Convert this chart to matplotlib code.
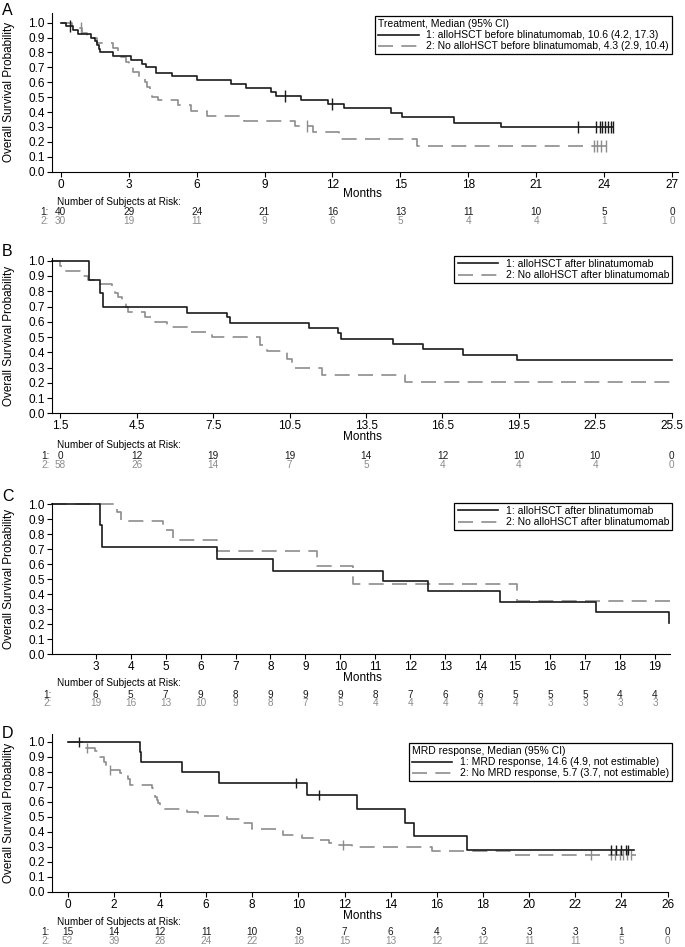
import numpy as np
import matplotlib
matplotlib.use('Agg')
import matplotlib.pyplot as plt
from matplotlib.transforms import blended_transform_factory
from matplotlib.lines import Line2D

plt.rcParams['font.family'] = ['Liberation Sans', 'DejaVu Sans']

# ---------------- DATA ----------------
# Panel A
a_labels = ['1: alloHSCT before blinatumomab, 10.6 (4.2, 17.3)',
            '2: No alloHSCT before blinatumomab, 4.3 (2.9, 10.4)']
a_title = 'Treatment, Median (95% CI)'
a1_t = [0, 0.25, 0.55, 0.75, 1.35, 1.5, 1.6, 1.7, 1.75, 2.3, 3.1, 3.6, 3.75, 4.2, 4.9,
        6.0, 7.5, 8.2, 9.3, 9.5, 10.6, 11.8, 12.5, 14.6, 15.05, 17.35, 19.45]
a1_s = [1.0, 0.975, 0.95, 0.925, 0.90, 0.875, 0.85, 0.825, 0.80, 0.775, 0.75, 0.725, 0.70,
        0.665, 0.64, 0.615, 0.59, 0.56, 0.535, 0.505, 0.48, 0.455, 0.425, 0.395, 0.365, 0.33, 0.30]
a1_end = 24.4
a1_cens = [0.42, 9.9, 12.0, 22.86, 23.65, 23.8, 23.9, 24.04, 24.16, 24.3, 24.4]
a2_t = [0, 0.5, 0.93, 1.15, 1.6, 2.3, 2.55, 2.65, 2.9, 3.0, 3.2, 3.45, 3.7, 3.8, 3.95, 4.05,
        4.3, 5.2, 5.75, 6.45, 8.1, 10.35, 11.15, 12.3, 15.72]
a2_s = [1.0, 0.967, 0.933, 0.90, 0.865, 0.83, 0.80, 0.77, 0.735, 0.70, 0.67, 0.635, 0.60,
        0.567, 0.533, 0.50, 0.48, 0.445, 0.41, 0.375, 0.34, 0.305, 0.265, 0.22, 0.175]
a2_end = 24.1
a2_cens = [0.9, 10.86, 23.55, 23.7, 23.85, 24.1]
a_ticks = [0, 3, 6, 9, 12, 15, 18, 21, 24, 27]
a_risk1 = [40, 29, 24, 21, 16, 13, 11, 10, 5, 0]
a_risk2 = [30, 19, 11, 9, 6, 5, 4, 4, 1, 0]

# Panel B
b_labels = ['1: alloHSCT after blinatumomab', '2: No alloHSCT after blinatumomab']
b1_t = [1.15, 2.6, 3.06, 3.15, 6.47, 8.05, 8.15, 11.27, 12.38, 12.5, 14.57, 15.74, 17.31, 19.41]
b1_s = [1.0, 0.875, 0.79, 0.70, 0.66, 0.63, 0.595, 0.56, 0.525, 0.49, 0.455, 0.42, 0.385, 0.35]
b1_end = 25.5
b2_t = [1.15, 1.48, 1.61, 2.27, 2.59, 2.85, 3.51, 3.64, 3.77, 3.9, 4.07, 4.16, 4.82, 5.21,
        5.67, 6.52, 7.44, 9.33, 9.6, 10.38, 10.58, 11.76, 15.03]
b2_s = [1.0, 0.967, 0.933, 0.90, 0.875, 0.85, 0.82, 0.79, 0.76, 0.73, 0.70, 0.665, 0.63,
        0.60, 0.565, 0.535, 0.50, 0.45, 0.41, 0.355, 0.30, 0.25, 0.205]
b2_end = 25.5
b_ticks = [1.5, 4.5, 7.5, 10.5, 13.5, 16.5, 19.5, 22.5, 25.5]
b_risk1 = [0, 12, 19, 19, 14, 12, 10, 10, 0]
b_risk2 = [58, 26, 14, 7, 5, 4, 4, 4, 0]

# Panel C
c_labels = ['1: alloHSCT after blinatumomab', '2: No alloHSCT after blinatumomab']
c1_t = [1.75, 3.11, 3.19, 6.47, 8.06, 11.22, 12.51, 14.58, 17.31, 19.4]
c1_s = [1.0, 0.857, 0.714, 0.635, 0.556, 0.486, 0.417, 0.347, 0.278, 0.208]
c1_end = 19.4
c2_t = [1.75, 3.61, 3.73, 4.93, 5.21, 6.47, 9.32, 10.37, 15.04]
c2_s = [1.0, 0.944, 0.889, 0.824, 0.758, 0.686, 0.588, 0.47, 0.353]
c2_end = 19.43
c_ticks = list(range(3, 20))
c_risk1 = [6, 5, 7, 9, 8, 9, 9, 9, 8, 7, 6, 6, 5, 5, 5, 4, 4]
c_risk2 = [19, 16, 13, 10, 9, 8, 7, 5, 4, 4, 4, 4, 4, 3, 3, 3, 3]

# Panel D
d_labels = ['1: MRD response, 14.6 (4.9, not estimable)',
            '2: No MRD response, 5.7 (3.7, not estimable)']
d_title = 'MRD response, Median (95% CI)'
d1_t = [0, 3.14, 3.2, 4.95, 6.54, 10.37, 12.54, 14.6, 15.03, 17.32]
d1_s = [1.0, 0.933, 0.867, 0.80, 0.727, 0.645, 0.55, 0.46, 0.37, 0.278]
d1_end = 24.55
d1_cens = [0.5, 9.91, 10.88, 23.54, 23.75, 23.97, 24.19, 24.29]
d2_t = [0, 0.68, 0.75, 1.2, 1.4, 1.58, 1.66, 2.27, 2.44, 2.6, 2.7, 3.65, 3.72, 3.79, 3.86,
        3.93, 4.0, 4.15, 5.17, 5.67, 6.9, 7.48, 7.98, 9.33, 10.15, 10.8, 11.32, 11.67, 12.33,
        15.8, 19.34]
d2_s = [1.0, 0.98, 0.96, 0.94, 0.90, 0.865, 0.81, 0.79, 0.77, 0.75, 0.71, 0.69, 0.655, 0.635,
        0.615, 0.595, 0.575, 0.55, 0.535, 0.505, 0.485, 0.46, 0.42, 0.375, 0.36, 0.345, 0.325,
        0.31, 0.295, 0.27, 0.245]
d2_end = 24.62
d2_cens = [0.85, 1.84, 11.95, 22.7, 23.55, 23.7, 23.94, 24.08, 24.23, 24.4]
d_ticks = list(range(0, 27, 2))
d_risk1 = [15, 14, 12, 11, 10, 9, 7, 6, 4, 3, 3, 3, 1, 0]
d_risk2 = [52, 39, 28, 24, 22, 18, 15, 13, 12, 12, 11, 11, 5, 0]

y_ticks = [0.0, 0.1, 0.2, 0.3, 0.4, 0.5, 0.6, 0.7, 0.8, 0.9, 1.0]

# ---------------- STYLE / LAYOUT ----------------
W, H = 685, 947
BLACK = '#1a1a1a'
GRAY = '#8c8c8c'
DASH = (9, 5)
fig = plt.figure(figsize=(W / 100, H / 100), dpi=100)


def fx(px):
    return px / W


def fy(py):
    return 1 - py / H


def surv_at(t, s, c):
    i = np.searchsorted(np.asarray(t), c, side='right') - 1
    return np.asarray(s)[i]


panels = [
    dict(letter='A', letter_y=3, box=(51.7, 12.7, 678, 171.7), xlim=(-0.4, 27.26), ylim=(0, 1.067),
         curves=[(a2_t, a2_s, a2_end, a2_cens), (a1_t, a1_s, a1_end, a1_cens)],
         labels=a_labels, title=a_title, leg=(672, 16), ticks=a_ticks, fmt='{:g}',
         risk=(a_risk1, a_risk2), risk_y=(201.7, 211.7, 220.7), months_y=194, csize=9, rowx=49),
    dict(letter='B', letter_y=244, box=(51.7, 258.3, 671.7, 413.3), xlim=(1.155, 25.5), ylim=(0, 1.016),
         curves=[(b2_t, b2_s, b2_end, []), (b1_t, b1_s, b1_end, [])],
         labels=b_labels, title=None, leg=(672, 256), ticks=b_ticks, fmt='{:.1f}',
         risk=(b_risk1, b_risk2), risk_y=(445, 456, 465), months_y=437, csize=9, rowx=50),
    dict(letter='C', letter_y=489, box=(51.7, 503, 670, 654), xlim=(1.74, 19.43), ylim=(0, 1.007),
         curves=[(c2_t, c2_s, c2_end, []), (c1_t, c1_s, c1_end, [])],
         labels=c_labels, title=None, leg=(672, 503), ticks=c_ticks, fmt='{:g}',
         risk=(c_risk1, c_risk2), risk_y=(683, 694.5, 703), months_y=678, csize=9, rowx=52),
    dict(letter='D', letter_y=726, box=(51.7, 734.3, 668.3, 891.7), xlim=(-0.69, 26.03), ylim=(0, 1.05),
         curves=[(d2_t, d2_s, d2_end, d2_cens), (d1_t, d1_s, d1_end, d1_cens)],
         labels=d_labels, title=d_title, leg=(672, 743), ticks=d_ticks, fmt='{:g}',
         risk=(d_risk1, d_risk2), risk_y=(922.3, 932.3, 941), months_y=916, csize=7, rowx=50),
]

TICK_FS = 8.5
RISK_FS = 7.2
LEG_FS = 7.5

for p in panels:
    l, t, r, b = p['box']
    ax = fig.add_axes([fx(l), fy(b), fx(r - l), (b - t) / H])
    ax.set_xlim(*p['xlim'])
    ax.set_ylim(*p['ylim'])
    for side in ('top', 'right'):
        ax.spines[side].set_visible(False)
    for side in ('left', 'bottom'):
        ax.spines[side].set_linewidth(0.8)
        ax.spines[side].set_color('black')
    ax.tick_params(direction='out', length=3.5, width=0.8, labelsize=TICK_FS, pad=1.5)
    ax.set_yticks(y_ticks)
    ax.set_yticklabels(['{:.1f}'.format(v) for v in y_ticks])
    ax.set_xticks(p['ticks'])
    ax.set_xticklabels([p['fmt'].format(v) for v in p['ticks']])
    ax.patch.set_alpha(0)

    colors = [GRAY, BLACK]
    for (ts, ss, tend, cens), col in zip(p['curves'], colors):
        xs = list(ts) + [tend]
        ys = list(ss) + [ss[-1]]
        kw = dict(color=col, lw=1.2, where='post', clip_on=False)
        if col == GRAY:
            kw['dashes'] = DASH
        ax.step(xs, ys, **kw)
        if len(cens):
            cy = [surv_at(ts, ss, c) for c in cens]
            ax.plot(cens, cy, ls='none', marker='|', ms=p['csize'], mew=1.0, color=col, clip_on=False)

    handles = [Line2D([], [], color=BLACK, lw=1.2),
               Line2D([], [], color=GRAY, lw=1.2, dashes=DASH)]
    leg = ax.legend(handles, p['labels'], title=p['title'], loc='upper right',
                    bbox_to_anchor=(fx(p['leg'][0]), fy(p['leg'][1])), bbox_transform=fig.transFigure,
                    borderaxespad=0, fontsize=LEG_FS, title_fontsize=LEG_FS, frameon=True,
                    fancybox=False, shadow=False, framealpha=1, edgecolor='black',
                    handlelength=3.9, handletextpad=0.7, borderpad=0.3, labelspacing=0.1,
                    alignment='left')
    leg.get_frame().set_linewidth(0.9)

    # y label
    fig.text(fx(9), fy((t + b) / 2), 'Overall Survival Probability', rotation=90,
             ha='center', va='center', fontsize=8.5)
    # panel letter
    fig.text(fx(2), fy(p['letter_y']), p['letter'], ha='left', va='top', fontsize=11.5)
    # Months
    fig.text(fx(362), fy(p['months_y']), 'Months', ha='center', va='center', fontsize=8.5)
    # at risk
    ny, r1y, r2y = p['risk_y']
    fig.text(fx(57), fy(ny), 'Number of Subjects at Risk:', ha='left', va='center', fontsize=RISK_FS)
    fig.text(fx(p['rowx']), fy(r1y), '1:', ha='right', va='center', fontsize=RISK_FS, color=BLACK)
    fig.text(fx(p['rowx']), fy(r2y), '2:', ha='right', va='center', fontsize=RISK_FS, color=GRAY)
    tr = blended_transform_factory(ax.transData, fig.transFigure)
    r1, r2 = p['risk']
    for xv, v1, v2 in zip(p['ticks'], r1, r2):
        ax.text(xv, fy(r1y), str(v1), transform=tr, ha='center', va='center',
                fontsize=RISK_FS, color=BLACK, clip_on=False)
        ax.text(xv, fy(r2y), str(v2), transform=tr, ha='center', va='center',
                fontsize=RISK_FS, color=GRAY, clip_on=False)

fig.savefig('out.png', dpi=100)
